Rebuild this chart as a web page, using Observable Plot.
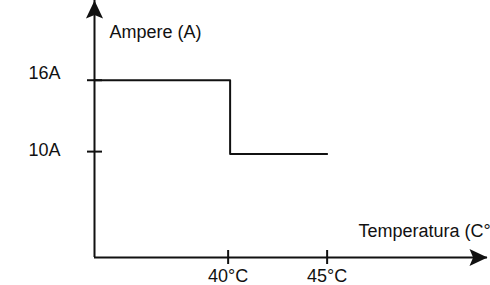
<!DOCTYPE html>
<html>
<head>
<meta charset="utf-8">
<script src="https://cdn.jsdelivr.net/npm/d3@7"></script>
<script src="https://cdn.jsdelivr.net/npm/@observablehq/plot@0.6"></script>
<style>
  html, body { margin: 0; padding: 0; background: #fff; overflow: hidden; }
  svg { overflow: hidden; }
</style>
</head>
<body>
<div id="chart"></div>
<script>
// Data
const tempDomain = [33.25, 53.1];      // °C span of the horizontal axis
const ampDomain = [1.1, 22.7];         // A span of the vertical axis
const stepTemp = [33.25, 40.1, 40.1, 45]; // step line, temperature
const stepAmp = [16, 16, 9.8, 9.8];    // step line, current
const xTicks = [40, 45];
const xTickLabels = ["40°C", "45°C"];
const yTicks = [16, 10];
const yTickLabels = ["16A", "10A"];
const xTitle = "Temperatura (C°";
const yTitle = "Ampere (A)";

const stepData = stepTemp.map((t, i) => ({t, a: stepAmp[i]}));
const x0 = tempDomain[0], x1 = tempDomain[1];
const y0 = ampDomain[0], y1 = ampDomain[1];

// dart-shaped arrowhead, pointing up
const dart = {
  draw(context, size) {
    const r = Math.sqrt(size / Math.PI);
    context.moveTo(0, -r);
    context.lineTo(0.95 * r, r);
    context.lineTo(0, 0.6 * r);
    context.lineTo(-0.95 * r, r);
    context.closePath();
  }
};

const font = "Liberation Sans, Arial, Helvetica, sans-serif";

const chart = Plot.plot({
  width: 490,
  height: 285,
  marginLeft: 94,
  marginRight: 3,
  marginTop: 0,
  marginBottom: 28,
  style: {fontFamily: font, fontSize: "18px", color: "#111", background: "#fff"},
  x: {domain: tempDomain, axis: null},
  y: {domain: ampDomain, axis: null},
  marks: [
    // axes lines
    Plot.ruleX([x0], {y1: y0, y2: y1, stroke: "#111", strokeWidth: 2}),
    Plot.ruleY([y0], {x1: x0, x2: x1, stroke: "#111", strokeWidth: 2}),
    // arrowheads
    Plot.dot([{x: x0, y: y1}], {x: "x", y: "y", r: 9, symbol: dart, fill: "#111", stroke: null, dy: 9}),
    Plot.dot([{x: x1, y: y0}], {x: "x", y: "y", r: 9, symbol: dart, fill: "#111", stroke: null, dx: -9, rotate: 90}),
    // tick marks
    Plot.ruleY(yTicks, {y: d => d, x1: x0, x2: x0, insetLeft: -7, insetRight: -8, stroke: "#111", strokeWidth: 2}),
    Plot.ruleX(xTicks, {x: d => d, y1: y0, y2: y0, insetTop: -7, insetBottom: -7, stroke: "#111", strokeWidth: 2}),
    // tick labels
    Plot.text([yTicks[0]], {y: d => d, x: x0, text: () => yTickLabels[0], textAnchor: "end", dx: -34, dy: -7, fill: "#111"}),
    Plot.text([yTicks[1]], {y: d => d, x: x0, text: () => yTickLabels[1], textAnchor: "end", dx: -34, dy: -1, fill: "#111"}),
    Plot.text(xTicks, {x: d => d, y: y0, text: (d, i) => xTickLabels[i], textAnchor: "middle", dy: 19, fill: "#111"}),
    // axis titles
    Plot.text([yTitle], {x: x0, y: y1, text: d => d, textAnchor: "start", dx: 15, dy: 32, fill: "#111"}),
    Plot.text([xTitle], {x: x1, y: y0, text: d => d, textAnchor: "start", dx: -129, dy: -26, fill: "#111"}),
    // step line
    Plot.line(stepData, {x: "t", y: "a", stroke: "#111", strokeWidth: 2})
  ]
});
document.getElementById("chart").appendChild(chart);
</script>
</body>
</html>
